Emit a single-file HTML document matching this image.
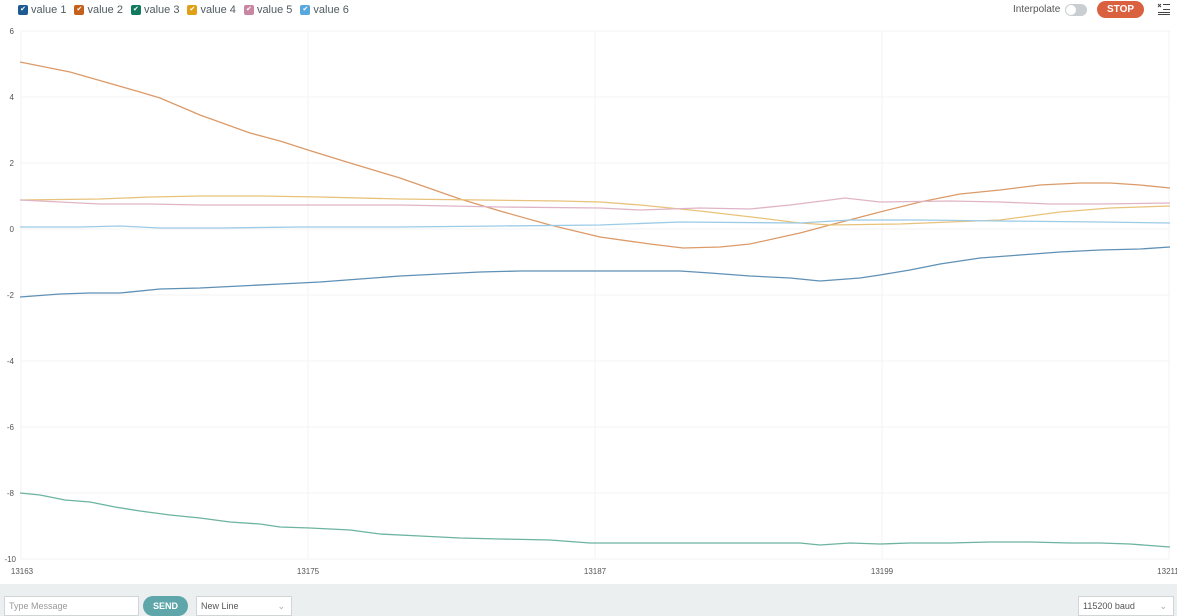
<!DOCTYPE html>
<html><head><meta charset="utf-8"><style>
*{margin:0;padding:0;box-sizing:border-box}
body{width:1177px;height:616px;background:#fff;font-family:"Liberation Sans",sans-serif;position:relative;overflow:hidden}
.leg{position:absolute;top:4px;left:18px;display:flex;font-size:11px;color:#4e5b61}
.leg span{display:flex;align-items:center;margin-right:8px}
.cb{width:10px;height:10px;border-radius:2px;margin-right:3px;color:#fff;font-size:7px;line-height:10px;text-align:center;font-style:normal}
.bot{position:absolute;left:0;top:584px;width:1177px;height:32px;background:#eceff0}
.inp{position:absolute;background:#fff;border:1px solid #d0d5d8;font-size:9px;color:#555;padding-left:4px;line-height:18px;height:20px}
</style></head><body>
<div class="leg">
<span><i class="cb" style="background:#1d5b90">✔</i>value 1</span>
<span><i class="cb" style="background:#c4601c">✔</i>value 2</span>
<span><i class="cb" style="background:#117a5e">✔</i>value 3</span>
<span><i class="cb" style="background:#df9f16">✔</i>value 4</span>
<span><i class="cb" style="background:#c886a2">✔</i>value 5</span>
<span><i class="cb" style="background:#56a8dd">✔</i>value 6</span>
</div>
<div style="position:absolute;left:1013px;top:4px;font-size:10px;color:#555">Interpolate</div>
<div style="position:absolute;left:1065px;top:4px;width:22px;height:12px;border-radius:6px;background:#c8ced1"><div style="width:10px;height:10px;border-radius:5px;background:#fff;margin:1px"></div></div>
<div style="position:absolute;left:1097px;top:1px;width:47px;height:17px;border-radius:9px;background:#d9613f;color:#fff;font-size:10px;font-weight:bold;text-align:center;line-height:17px">STOP</div>
<svg width="14" height="12" style="position:absolute;left:1157px;top:3px" stroke="#444" stroke-width="1"><line x1="6" y1="6.5" x2="13" y2="6.5"/><line x1="1" y1="9.5" x2="13" y2="9.5"/><line x1="1" y1="11.5" x2="13" y2="11.5"/><line x1="6" y1="1.5" x2="13" y2="1.5"/><path d="M1 1 L4 4 M4 1 L1 4"/></svg>
<svg width="1177" height="584" style="position:absolute;left:0;top:0" font-family="Liberation Sans" font-size="8" fill="#555">
<g stroke="#f3f3f3" stroke-width="1">
<line x1="21" y1="31" x2="1170" y2="31"/><line x1="21" y1="97" x2="1170" y2="97"/><line x1="21" y1="163" x2="1170" y2="163"/><line x1="21" y1="229" x2="1170" y2="229"/><line x1="21" y1="295" x2="1170" y2="295"/><line x1="21" y1="361" x2="1170" y2="361"/><line x1="21" y1="427" x2="1170" y2="427"/><line x1="21" y1="493" x2="1170" y2="493"/><line x1="21" y1="559" x2="1170" y2="559"/>
<line x1="21" y1="31" x2="21" y2="559"/><line x1="308" y1="31" x2="308" y2="559"/><line x1="595" y1="31" x2="595" y2="559"/><line x1="882" y1="31" x2="882" y2="559"/><line x1="1169" y1="31" x2="1169" y2="559"/>
</g>
<g text-anchor="end"><text x="14" y="34">6</text><text x="14" y="100">4</text><text x="14" y="166">2</text><text x="14" y="232">0</text><text x="14" y="298">-2</text><text x="14" y="364">-4</text><text x="14" y="430">-6</text><text x="14" y="496">-8</text><text x="16" y="562">-10</text></g>
<g text-anchor="middle"><text x="22" y="574">13163</text><text x="308" y="574">13175</text><text x="595" y="574">13187</text><text x="882" y="574">13199</text><text x="1168" y="574">13211</text></g>
<g fill="none" stroke-width="1.3">
<polyline stroke="#dc9a68" points="20,62 45,67 70,72 105,82 140,92 160,98 200,115 250,133 280,141 308,150 350,163 400,178 460,199 500,211 550,225 600,237 650,244 683,248 720,247 750,244 800,233 830,225 880,212 920,202 960,194 1000,190 1040,185 1080,183 1110,183 1140,185 1170,188"/>
<polyline stroke="#e8c27a" points="20,200 100,199 150,197 200,196 260,196 320,197 400,199 480,200 560,201 600,202 640,205 700,211 760,218 800,223 830,225 900,224 1000,220 1060,212 1110,208 1170,206"/>
<polyline stroke="#e0b4c6" points="20,200 60,202 100,204 150,204 200,205 300,205 400,205 500,207 600,208 640,210 700,208 750,209 790,205 830,200 845,198 880,202 950,201 1000,202 1050,204 1100,204 1170,203"/>
<polyline stroke="#9ccbe6" points="20,227 80,227 120,226 160,228 220,228 300,227 400,227 500,226 600,225 680,222 800,223 850,220 920,220 1000,221 1100,222 1170,223"/>
<polyline stroke="#5f90b6" points="20,297 60,294 90,293 120,293 160,289 200,288 240,286 280,284 320,282 360,279 400,276 440,274 480,272 520,271 560,271 600,271 640,271 680,271 710,273 750,276 790,278 820,281 860,278 880,275 910,270 940,264 980,258 1020,255 1060,252 1100,250 1140,249 1170,247"/>
<polyline stroke="#6cb3a0" points="20,493 40,495 65,500 90,502 115,507 140,511 170,515 200,518 230,522 260,524 280,527 310,528 350,530 380,534 420,536 460,538 500,539 550,540 590,543 630,543 670,543 720,543 760,543 800,543 820,545 850,543 880,544 910,543 950,543 990,542 1030,542 1070,543 1100,543 1130,544 1170,547"/>
</g>
</svg>
<div class="bot">
<div class="inp" style="left:4px;top:12px;width:135px;color:#999">Type Message</div>
<div style="position:absolute;left:143px;top:12px;width:45px;height:20px;border-radius:10px;background:#5fa6ab;color:#fff;font-size:9px;font-weight:bold;text-align:center;line-height:20px">SEND</div>
<div class="inp" style="left:196px;top:12px;width:96px">New Line<span style="position:absolute;right:6px;color:#aaa">⌄</span></div>
<div class="inp" style="left:1078px;top:12px;width:96px">115200 baud<span style="position:absolute;right:6px;color:#aaa">⌄</span></div>
</div>
</body></html>
